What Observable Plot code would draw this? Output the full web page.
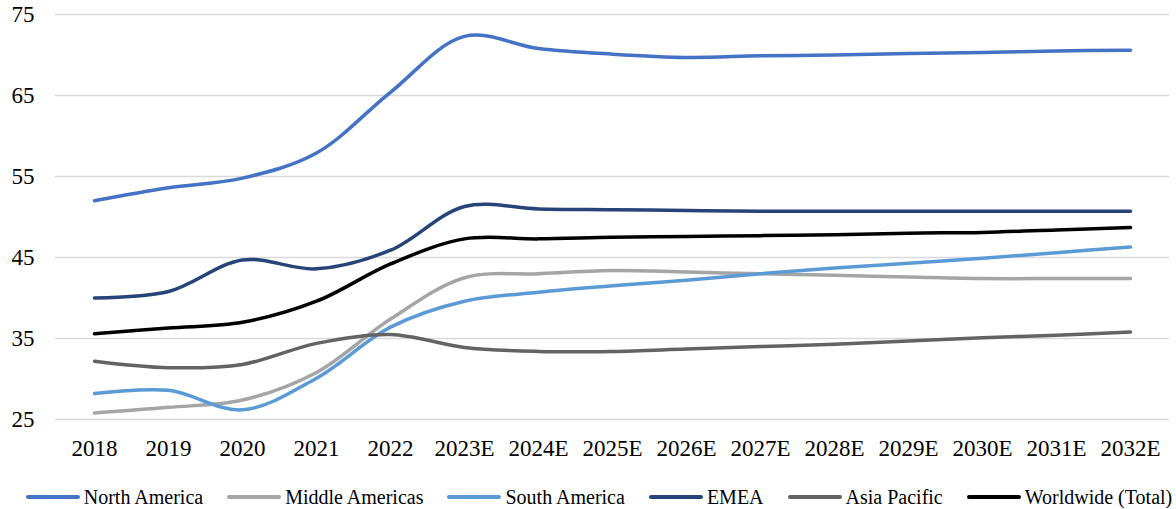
<!DOCTYPE html>
<html>
<head>
<meta charset="utf-8">
<script src="https://cdn.jsdelivr.net/npm/d3@7"></script>
<script src="https://cdn.jsdelivr.net/npm/@observablehq/plot@0.6"></script>
<style>
  html, body { margin: 0; padding: 0; background: #fff; }
  #chart { width: 1176px; }
  .legend {
    display: flex; justify-content: center; align-items: center;
    height: 39px; font-family: "Liberation Serif", "Times New Roman", serif;
    font-size: 20px; color: #000; padding-left: 22px; padding-top: 15px; box-sizing: border-box;
  }
  .legend .item { display: flex; align-items: center; margin-right: 24px; }
  .legend .item:last-child { margin-right: 0; }
  .legend svg { margin-right: 4px; }
</style>
</head>
<body>
<div id="chart"></div>
<script>
// Categories along the x axis
const years = ["2018", "2019", "2020", "2021", "2022", "2023E", "2024E", "2025E",
               "2026E", "2027E", "2028E", "2029E", "2030E", "2031E", "2032E"];

// Series names and their line colours
const seriesNames = ["North America", "Middle Americas", "South America", "EMEA", "Asia Pacific", "Worldwide (Total)"];
const seriesColors = ["#4472C4", "#A5A5A5", "#5B9BD5", "#264478", "#636363", "#000000"];

// Values per series, one per year
const northAmerica   = [52.0, 53.6, 54.8, 57.9, 65.4, 72.3, 70.8, 70.1, 69.7, 69.9, 70.0, 70.2, 70.3, 70.5, 70.6];
const middleAmericas = [25.8, 26.5, 27.4, 30.8, 37.4, 42.5, 43.0, 43.4, 43.2, 43.0, 42.8, 42.6, 42.4, 42.4, 42.4];
const southAmerica   = [28.2, 28.6, 26.2, 30.1, 36.4, 39.6, 40.7, 41.5, 42.2, 43.0, 43.7, 44.3, 44.9, 45.6, 46.3];
const emea           = [40.0, 40.8, 44.7, 43.6, 45.9, 51.3, 51.0, 50.9, 50.8, 50.7, 50.7, 50.7, 50.7, 50.7, 50.7];
const asiaPacific    = [32.2, 31.4, 31.8, 34.4, 35.5, 33.9, 33.4, 33.4, 33.7, 34.0, 34.3, 34.7, 35.1, 35.4, 35.8];
const worldwide      = [35.6, 36.3, 37.0, 39.6, 44.2, 47.3, 47.3, 47.5, 47.6, 47.7, 47.8, 48.0, 48.1, 48.4, 48.7];

// Y axis ticks
const yTicks = [25, 35, 45, 55, 65, 75];

const seriesValues = [northAmerica, middleAmericas, southAmerica, emea, asiaPacific, worldwide];
const rows = seriesNames.flatMap((name, i) =>
  years.map((year, j) => ({series: name, year, value: seriesValues[i][j]}))
);

const font = '"Liberation Serif", "Times New Roman", serif';

const chart = Plot.plot({
  width: 1176,
  height: 470,
  marginTop: 14,
  marginBottom: 51,
  marginLeft: 55,
  marginRight: 7,
  style: {fontFamily: font, fontSize: "23px", color: "#000", background: "#fff"},
  x: {type: "point", domain: years, padding: 0.5, label: null},
  y: {domain: [25, 75], ticks: yTicks, label: null},
  color: {domain: seriesNames, range: seriesColors},
  marks: [
    Plot.gridY(yTicks, {stroke: "#d9d9d9", strokeOpacity: 1, strokeWidth: 1.3}),
    Plot.axisX({tickSize: 0, tickPadding: 20, fontSize: 23, fontFamily: font}),
    Plot.axisY(yTicks, {tickSize: 0, tickPadding: 21, fontSize: 23, fontFamily: font}),
    Plot.line(rows, {
      x: "year", y: "value", z: "series", stroke: "series",
      curve: "catmull-rom", strokeWidth: 3.5, strokeLinecap: "round", strokeLinejoin: "round"
    })
  ]
});

const container = document.getElementById("chart");
container.appendChild(chart);

// Legend row below the plot
const legend = document.createElement("div");
legend.className = "legend";
seriesNames.forEach((name, i) => {
  const item = document.createElement("div");
  item.className = "item";
  item.innerHTML =
    `<svg width="54" height="8"><line x1="2" y1="4" x2="52" y2="4" stroke="${seriesColors[i]}" stroke-width="4" stroke-linecap="round"/></svg><span>${name}</span>`;
  legend.appendChild(item);
});
container.appendChild(legend);
</script>
</body>
</html>
